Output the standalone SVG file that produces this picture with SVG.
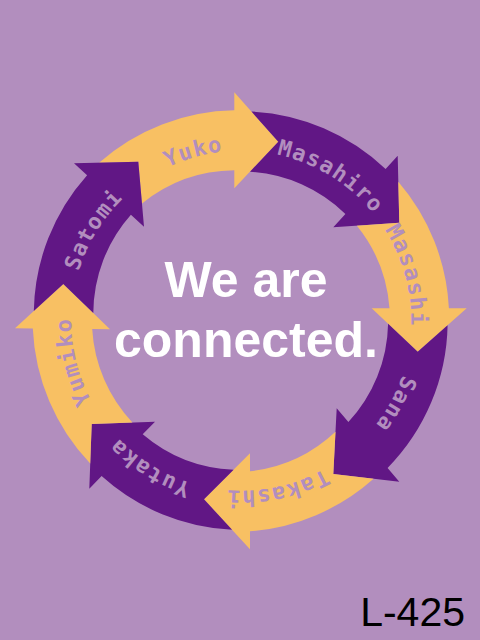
<svg xmlns="http://www.w3.org/2000/svg" xmlns:xlink="http://www.w3.org/1999/xlink" width="480" height="640" viewBox="0 0 480 640">
  <style>
    .bg { fill: #b28ebe; }
    .purple { fill: #611785; }
    .yellow { fill: #f8c063; }
    .lbl { font-family: "DejaVu Sans Mono", "Liberation Mono", monospace; font-weight: bold; font-size: 22px; letter-spacing: 1.3px; fill: #b28ebe; text-anchor: middle; }
    .title { font-family: "Liberation Sans", Arial, sans-serif; font-weight: bold; font-size: 50px; fill: #ffffff; text-anchor: middle; }
    .code { font-family: "Liberation Sans", Arial, sans-serif; font-size: 41px; fill: #000000; text-anchor: end; }
  </style>
  <defs>
    <path id="ring" d="M 241.3,150.7 A 170 170 0 1 1 241.3,490.7 A 170 170 0 1 1 241.3,150.7"/>
  </defs>
  <rect class="bg" x="0" y="0" width="480" height="640"/>

  <g id="connectors">
    <g id="yuko">
      <path class="yellow" d="M 99.1,162.7 A 209.5 209.5 0 0 1 234.3,110.3 L 234.3,92.3 L 278.3,141.7 L 234.3,188.3 L 234.3,170.3 A 149 149 0 0 0 142.0,203.5 L 138.3,161.7 Z"/>
      <text class="lbl"><textPath href="#ring" xlink:href="#ring" startOffset="1020.7">Yuko</textPath></text>
    </g>
    <g id="masahiro">
      <path class="purple" d="M 251.5,111.6 A 209.5 209.5 0 0 1 385.6,169.1 L 397.7,155.7 L 399.3,222.7 L 333.3,227.3 L 345.4,213.9 A 149 149 0 0 0 250.0,171.7 L 278.3,141.7 Z"/>
      <text class="lbl"><textPath href="#ring" xlink:href="#ring" startOffset="93.8">Masahiro</textPath></text>
    </g>
    <g id="masashi">
      <path class="yellow" d="M 398.3,181.8 A 209.5 209.5 0 0 1 448.9,308.3 L 466.7,308.3 L 417.7,351.7 L 371.7,308.3 L 389.5,308.3 A 149 149 0 0 0 356.9,225.7 L 399.3,222.7 Z"/>
      <text class="lbl"><textPath href="#ring" xlink:href="#ring" startOffset="221.9">Masashi</textPath></text>
    </g>
    <g id="sana">
      <path class="purple" d="M 447.6,325.2 A 209.5 209.5 0 0 1 387.6,467.9 L 399.3,481.7 L 333.3,474 L 336.7,408.3 L 348.4,422.1 A 149 149 0 0 0 388.1,323.8 L 417.7,351.7 Z"/>
      <text class="lbl"><textPath href="#ring" xlink:href="#ring" startOffset="351.0">Sana</textPath></text>
    </g>
    <g id="takashi">
      <path class="yellow" d="M 373.6,478.7 A 209.5 209.5 0 0 1 250,531.3 L 250,549.3 L 204,499.3 L 250,453.3 L 250,471.3 A 149 149 0 0 0 335.5,431.8 L 333.3,474 Z"/>
      <text class="lbl"><textPath href="#ring" xlink:href="#ring" startOffset="497.9">Takashi</textPath></text>
    </g>
    <g id="yutaka">
      <path class="purple" d="M 232.1,529.8 A 209.5 209.5 0 0 1 101.6,476.1 L 89.3,488.7 L 91.7,424 L 155,421.7 L 142.7,434.3 A 149 149 0 0 0 233.6,469.7 L 204,499.3 Z"/>
      <text class="lbl"><textPath href="#ring" xlink:href="#ring" startOffset="628.4">Yutaka</textPath></text>
    </g>
    <g id="yumiko">
      <path class="yellow" d="M 90.2,463.5 A 209.5 209.5 0 0 1 32.8,328.5 L 15,328.3 L 63.3,284 L 110,329.3 L 92.2,329.1 A 149 149 0 0 0 132.4,422.5 L 91.7,424 Z"/>
      <text class="lbl"><textPath href="#ring" xlink:href="#ring" startOffset="760.2">Yumiko</textPath></text>
    </g>
    <g id="satomi">
      <path class="purple" d="M 33.8,311.0 A 209.5 209.5 0 0 1 87.1,175.2 L 74,163.3 L 138.3,161.7 L 144,226.7 L 130.9,214.8 A 149 149 0 0 0 93.3,313.1 L 63.3,284 Z"/>
      <text class="lbl"><textPath href="#ring" xlink:href="#ring" startOffset="894.3">Satomi</textPath></text>
    </g>
  </g>

  <g id="center-text">
    <text class="title" x="246" y="297">We are</text>
    <text class="title" x="246" y="357">connected.</text>
  </g>

  <g id="code-label">
    <text class="code" x="465" y="626">L-425</text>
  </g>
</svg>
